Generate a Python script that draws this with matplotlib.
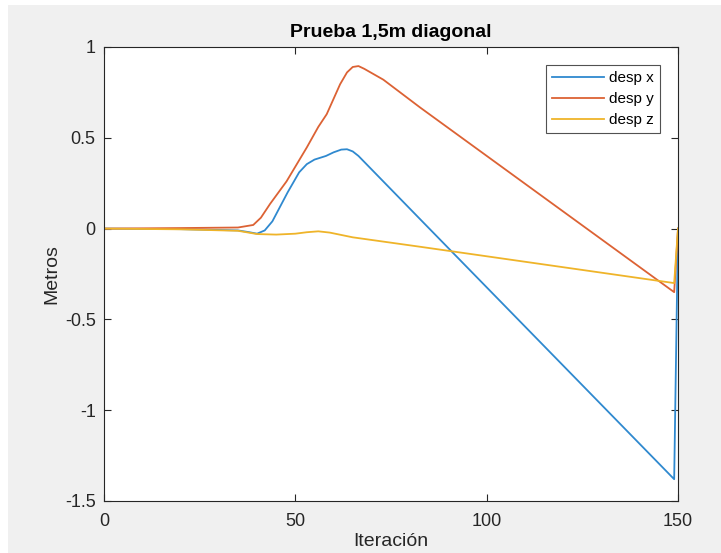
import numpy as np
import matplotlib.pyplot as plt
from matplotlib.patches import Rectangle

plt.rcParams['font.family'] = ['Liberation Sans', 'DejaVu Sans']

# Key points (iteration, metres)
x_it = [0, 20, 35, 38, 40, 42, 44, 48, 51, 53, 55, 58, 60, 62, 63.5, 65, 66.5, 82.6, 149, 150]
desp_x = [0, -0.003, -0.01, -0.02, -0.028, -0.01, 0.04, 0.2, 0.31, 0.355, 0.38, 0.40, 0.42,
          0.435, 0.437, 0.425, 0.40, 0.052, -1.38, 0]

y_it = [0, 20, 35, 39, 41, 43.4, 47.7, 53, 56, 58.2, 61.7, 63.5, 65, 66.5, 68, 73, 82.6, 149, 150]
desp_y = [0, 0.003, 0.006, 0.02, 0.06, 0.136, 0.26, 0.447, 0.56, 0.63, 0.795, 0.86, 0.89,
          0.895, 0.88, 0.82, 0.667, -0.35, 0]

z_it = [0, 20, 35, 40, 45, 50, 53, 56, 59, 62, 65, 82.6, 149, 150]
desp_z = [0, -0.004, -0.012, -0.03, -0.033, -0.028, -0.02, -0.015, -0.022, -0.035, -0.048,
          -0.1, -0.3, 0]

xticks = [0, 50, 100, 150]
yticks = [-1.5, -1, -0.5, 0, 0.5, 1]

fig = plt.figure(figsize=(7.21, 5.53), dpi=100, facecolor='white')
fig.patches.append(Rectangle((8 / 721, 0), 1, 1 - 5 / 553, transform=fig.transFigure,
                             facecolor='#f0f0f0', edgecolor='none', zorder=-10))

ax = fig.add_axes([104 / 721, 52 / 553, 574 / 721, 454 / 553])
ax.set_facecolor('white')

ax.plot(x_it, desp_x, color='#2f89cf', lw=1.3, label='desp x')
ax.plot(y_it, desp_y, color='#dc6234', lw=1.3, label='desp y')
ax.plot(z_it, desp_z, color='#efb429', lw=1.3, label='desp z')

ax.set_xlim(0, 150)
ax.set_ylim(-1.5, 1)
ax.set_xticks(xticks)
ax.set_yticks(yticks)
ax.set_yticklabels(['-1.5', '-1', '-0.5', '0', '0.5', '1'])
ax.tick_params(direction='in', top=True, right=True, length=5, width=0.8,
               colors='#262626', labelsize=13)
ax.tick_params(axis='x', pad=9)
ax.tick_params(axis='y', pad=6)
for s in ax.spines.values():
    s.set_color('#262626')
    s.set_linewidth(0.8)

ax.set_xlabel('Iteración', fontsize=14, color='#262626', labelpad=2)
ax.set_ylabel('Metros', fontsize=14, color='#262626', labelpad=3)
ax.set_title('Prueba 1,5m diagonal', fontsize=14, fontweight='bold', color='#000000', pad=7)

leg = ax.legend(loc='upper right', fontsize=11, frameon=True, fancybox=False,
                edgecolor='#262626', handlelength=3.4, borderpad=0.4,
                labelspacing=0.45, borderaxespad=1.2, handletextpad=0.3)
leg.get_frame().set_linewidth(0.8)

fig.savefig('out.png', dpi=100, facecolor=fig.get_facecolor())
